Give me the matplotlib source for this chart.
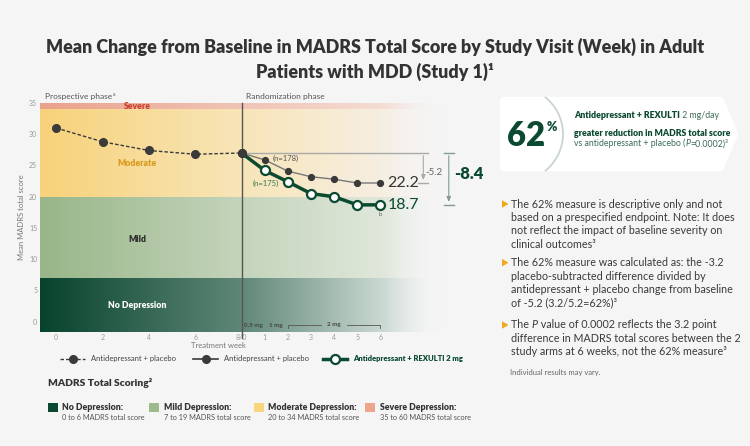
import matplotlib
matplotlib.use('Agg')
import matplotlib.pyplot as plt
import matplotlib.colors as mcolors
import numpy as np
from matplotlib.patches import Polygon, Rectangle, Arc
from matplotlib.lines import Line2D

plt.rcParams['font.family'] = ['Lato', 'DejaVu Sans']

# ---------------- data ----------------
pros_weeks = [0, 2, 4, 6, 8]
pros_scores = [31.0, 28.8, 27.4, 26.8, 27.0]
rand_weeks = [0, 1, 2, 3, 4, 5, 6]
placebo_scores = [27.0, 25.9, 24.1, 23.2, 22.8, 22.2, 22.2]
rexulti_scores = [27.0, 24.2, 22.4, 20.5, 20.0, 18.7, 18.7]
x_tick_labels = ['0', '2', '4', '6', '8/0', '1', '2', '3', '4', '5', '6']
y_ticks = [0, 5, 10, 15, 20, 25, 30, 35]
band_labels = ['No Depression', 'Mild', 'Moderate', 'Severe']
band_ranges = [(-1.6, 7), (7, 20), (20, 34), (34, 35)]
band_ranges_text = ['0 to 6 MADRS total score', '7 to 19 MADRS total score',
                    '20 to 34 MADRS total score', '35 to 60 MADRS total score']
placebo_n = '(n=178)'
rexulti_n = '(n=175)'
diff_placebo = '-5.2'
diff_rexulti = '-8.4'
RAND_OFFSET = 8

BG = '#f5f5f5'
GREEN = '#0b4a30'
DARK = '#3a3a3a'
GRAY = '#9a9a9a'

fig = plt.figure(figsize=(7.5, 4.46), dpi=100)
fig.patch.set_facecolor(BG)

# ---------------- main chart ----------------
ax = fig.add_axes([40 / 750, 1 - 331.7 / 446, 403 / 750, (331.7 - 103) / 446])
ax.set_facecolor('none')
for s in ax.spines.values():
    s.set_visible(False)

band_stops = [
    [(-0.7, '#07432c'), (8, '#5f8778'), (14, '#c9d7d1'), (16.7, BG)],
    [(-0.7, '#98b689'), (8, '#c4d4bb'), (14, '#dfe7da'), (16.7, BG)],
    [(-0.7, '#f7d27a'), (8, '#f8e5b8'), (14, '#f6eee2'), (16.7, BG)],
    [(-0.7, '#e9a28b'), (8, '#f1c3b5'), (14, '#f4dcd4'), (16.7, BG)],
]
xs = np.linspace(-0.7, 16.7, 800)
for (y0, y1), stops in zip(band_ranges, band_stops):
    sx = [s[0] for s in stops]
    cols = np.array([mcolors.to_rgb(s[1]) for s in stops])
    rgb = np.stack([np.interp(xs, sx, cols[:, i]) for i in range(3)], axis=-1)
    alpha = np.interp(xs, [-0.7, 14.2, 16.7], [1, 1, 0])
    img = np.concatenate([rgb, alpha[:, None]], axis=-1)[None, :, :]
    ax.imshow(img, extent=[-0.7, 16.7, y0, y1], aspect='auto', zorder=0,
              interpolation='bilinear')
ax.set_xlim(-0.7, 16.7)
ax.set_ylim(-1.6, 35)

# band labels
band_label_y = [2.6, 13.2, 25.3, 34.5]
band_label_col = ['white', '#2b2b2b', '#d99a1c', '#c8412b']
for lab, yy, c in zip(band_labels, band_label_y, band_label_col):
    ax.text(3.5, yy, lab, ha='center', va='center', fontsize=6.2, fontweight='heavy', color=c, zorder=2)

# vertical divider
ax.plot([RAND_OFFSET, RAND_OFFSET], [-2.6, 35], color='#555555', lw=1.0, zorder=3, clip_on=False)

# prospective (dashed)
ax.plot(pros_weeks, pros_scores, ls=(0, (2.5, 1.5)), color=DARK, lw=1.0, marker='o',
        markersize=5.5, markerfacecolor=DARK, markeredgecolor=DARK, zorder=5)

rx = [RAND_OFFSET + w for w in rand_weeks]
# baseline reference line
ax.plot([RAND_OFFSET, 16.05], [placebo_scores[0]] * 2, color='#a9a9a9', lw=1.0, zorder=3, clip_on=False)
# placebo
ax.plot(rx, placebo_scores, color='#777777', lw=1.0, marker='o', markersize=4.2,
        markerfacecolor=DARK, markeredgecolor=DARK, zorder=5, markevery=slice(1, None))
# rexulti
ax.plot(rx, rexulti_scores, color=GREEN, lw=2.5, marker='o', markersize=6.5,
        markerfacecolor='white', markeredgecolor=GREEN, markeredgewidth=1.6, zorder=6,
        markevery=slice(1, None))
# baseline point on top
ax.plot([pros_weeks[-1]], [pros_scores[-1]], 'o', markersize=5.5, color=DARK, zorder=7)

ax.text(rx[1] + 0.35, placebo_scores[1] + 0.2, placebo_n, fontsize=5.5, color='#555555', va='center', zorder=6)
ax.text(rx[0] + 0.5, rexulti_scores[2] - 0.2, rexulti_n, fontsize=5.5, color='#2f7a4f', va='center', zorder=6)
ax.text(rx[-1] + 0.3, placebo_scores[-1], f'{placebo_scores[-1]:.1f}', fontsize=11.5, color='#333333',
        va='center', ha='left', zorder=6)
ax.text(rx[-1] + 0.3, rexulti_scores[-1], f'{rexulti_scores[-1]:.1f}', fontsize=11.5, color=GREEN,
        va='center', ha='left', zorder=6)
ax.text(rx[-1], rexulti_scores[-1] - 1.5, 'b', fontsize=4, color='#555555', ha='center', va='center')

# -5.2 bracket
bx1 = 15.85
ax.annotate('', xy=(bx1, placebo_scores[-1]), xytext=(bx1, placebo_scores[0]),
            arrowprops=dict(arrowstyle='-|>,head_width=0.12,head_length=0.3', color='#a9a9a9', lw=0.8),
            annotation_clip=False)
ax.plot([bx1 - 0.22, bx1 + 0.22], [placebo_scores[-1]] * 2, color='#a9a9a9', lw=1.0, clip_on=False)
ax.text(bx1 + 0.1, 23.9, diff_placebo, fontsize=7, color='#666666', va='center', ha='left')
# -8.4 bracket
bx2 = 16.95
ax.annotate('', xy=(bx2, rexulti_scores[-1]), xytext=(bx2, placebo_scores[0]),
            arrowprops=dict(arrowstyle='-|>,head_width=0.12,head_length=0.3', color='#7f9c8e', lw=0.8),
            annotation_clip=False)
for yy in (placebo_scores[0], rexulti_scores[-1]):
    ax.plot([bx2 - 0.22, bx2 + 0.22], [yy, yy], color='#7f9c8e', lw=1.0, clip_on=False)
ax.text(bx2 + 0.25, 23.6, diff_rexulti, fontsize=12, fontweight='heavy', color=GREEN, va='center', ha='left')

# dose annotations
ax.text(8.12, -0.6, '0.5 mg', fontsize=4.5, fontweight='bold', color='#444444', va='center')
ax.text(9.2, -0.6, '1 mg', fontsize=4.5, fontweight='bold', color='#444444', va='center')
ax.plot([10, 10, 11.45], [-1.0, -0.5, -0.5], color='#555555', lw=0.6, clip_on=False)
ax.plot([12.55, 14, 14], [-0.5, -0.5, -1.0], color='#555555', lw=0.6, clip_on=False)
ax.text(12, -0.45, '2 mg', fontsize=4.5, fontweight='bold', color='#444444', va='center', ha='center')

# ticks
xt = pros_weeks[:-1] + [RAND_OFFSET] + [RAND_OFFSET + w for w in rand_weeks[1:]]
ax.set_xticks(xt)
ax.set_xticklabels(x_tick_labels)
ax.set_yticks(y_ticks)
ax.tick_params(axis='both', length=0, labelsize=5, labelcolor=GRAY, pad=2)
ax.set_ylabel('Mean MADRS total score', fontsize=5.5, color='#777777', labelpad=3)

# ---------------- overlay ----------------
ov = fig.add_axes([0, 0, 1, 1], zorder=10)
ov.set_xlim(0, 750)
ov.set_ylim(446, 0)
ov.axis('off')
ov.patch.set_alpha(0)

fig.canvas.draw()
R = fig.canvas.get_renderer()


def width_of(t):
    return t.get_window_extent(renderer=R).width


def fit(t, w):
    t.set_fontsize(t.get_fontsize() * w / width_of(t))
    return t


def rich(x, y, parts, size, va='center'):
    """parts: list of (text, weight, style, color)"""
    for txt, wt, st, col in parts:
        t = ov.text(x, y, txt, fontsize=size, fontweight=wt, fontstyle=st, color=col, va=va, ha='left')
        x = x + width_of(t)
    return x


# title
t1 = ov.text(375, 47, 'Mean Change from Baseline in MADRS Total Score by Study Visit (Week) in Adult',
             ha='center', va='center', fontsize=14, fontweight='heavy', color='#333333')
fit(t1, 656)
ov.text(375, 72, 'Patients with MDD (Study 1)¹', ha='center', va='center',
        fontsize=t1.get_fontsize(), fontweight='heavy', color='#333333')

# phase labels
pt = ov.text(45, 96, 'Prospective phase', fontsize=6, color='#555555', va='center')
ov.text(45 + width_of(pt) + 0.5, 94, 'a', fontsize=3.5, color='#555555', va='center')
ov.text(246, 96, 'Randomization phase', fontsize=6, color='#555555', va='center')
ov.text(218, 346, 'Treatment week', fontsize=5.5, color='#777777', va='center', ha='center')

# series legend
ly = 358.5
ov.add_line(Line2D([60, 85], [ly, ly], ls=(0, (2.5, 1.5)), color=DARK, lw=1.0))
ov.add_line(Line2D([72.5], [ly], marker='o', markersize=5.5, color=DARK))
lt = ov.text(91, ly, 'Antidepressant + placebo', fontsize=6.5, color='#444444', va='center')
fit(lt, 84)
ov.add_line(Line2D([193, 218], [ly, ly], color=DARK, lw=1.2))
ov.add_line(Line2D([205.5], [ly], marker='o', markersize=5.5, color=DARK))
ov.text(224, ly, 'Antidepressant + placebo', fontsize=lt.get_fontsize(), color='#444444', va='center')
ov.add_line(Line2D([323, 347], [ly, ly], color=GREEN, lw=2.5))
ov.add_line(Line2D([335], [ly], marker='o', markersize=6.5, markerfacecolor='white',
                   markeredgecolor=GREEN, markeredgewidth=1.6))
ov.text(353, ly, 'Antidepressant + REXULTI 2 mg', fontsize=lt.get_fontsize(), fontweight='heavy',
        color=GREEN, va='center')

# MADRS total scoring
ms = ov.text(48, 383, 'MADRS Total Scoring²', fontsize=9, fontweight='heavy', color='#333333', va='center')
fit(ms, 104)
sq_cols = ['#0b4a30', '#9dba8c', '#f7d67e', '#eda58b']
sq_x = [48, 149, 254, 365]
head = ['No Depression:', 'Mild Depression:', 'Moderate Depression:', 'Severe Depression:']
probe_h = ov.text(0, 0, head[2], fontsize=7.5, fontweight='heavy')
fit(probe_h, 88)
bsize = probe_h.get_fontsize()
probe_h.remove()
probe_s = ov.text(0, 0, band_ranges_text[2], fontsize=6)
fit(probe_s, 92)
ssize = probe_s.get_fontsize()
probe_s.remove()
for x0, c, h, sub in zip(sq_x, sq_cols, head, band_ranges_text):
    ov.add_patch(Rectangle((x0, 403), 9.5, 8.5, facecolor=c, edgecolor='none'))
    ov.text(x0 + 14.5, 407, h, fontsize=bsize, fontweight='heavy', color='#333333', va='center')
    ov.text(x0 + 14.5, 418, sub, fontsize=ssize, color='#555555', va='center')

# right callout box
box = Polygon([(504, 101), (720, 101), (734, 134), (720, 167), (504, 167)], closed=True,
              facecolor='white', edgecolor='white', lw=6, joinstyle='round')
ov.add_patch(box)
ov.add_patch(Arc((516, 134), 94, 94, theta1=-52, theta2=52, color='#c9d4cd', lw=1.3))
n62 = ov.text(507, 136, '62', fontsize=21, fontweight='heavy', color=GREEN, va='center', ha='left')
fit(n62, 38)
ov.text(547, 127, '%', fontsize=9, fontweight='heavy', color=GREEN, va='center', ha='left')
bs = 6.3
rich(574, 116, [('Antidepressant + REXULTI', 'heavy', 'normal', GREEN),
                (' 2 mg/day', 'normal', 'normal', '#3d6b55')], bs)
rich(574, 133, [('greater reduction in MADRS total score', 'heavy', 'normal', GREEN)], bs)
rich(574, 143.5, [('vs antidepressant + placebo (', 'normal', 'normal', '#3d6b55'),
                  ('P', 'normal', 'italic', '#3d6b55'),
                  ('=0.0002)³', 'normal', 'normal', '#3d6b55')], bs)

# bullets
TXT = '#3a3a3a'
probe = ov.text(511, 204, 'The 62% measure is descriptive only and not', fontsize=8, color=TXT, va='center')
fit(probe, 211)
fsz = probe.get_fontsize()
probe.remove()
lh = 13.4
bullets = [
    [[('The 62% measure is descriptive only and not', 'normal')],
     [('based on a prespecified endpoint. Note: It does', 'normal')],
     [('not reflect the impact of baseline severity on', 'normal')],
     [('clinical outcomes³', 'normal')]],
    [[('The 62% measure was calculated as: the -3.2', 'normal')],
     [('placebo-subtracted difference divided by', 'normal')],
     [('antidepressant + placebo change from baseline', 'normal')],
     [('of -5.2 (3.2/5.2=62%)³', 'normal')]],
    [[('The ', 'normal'), ('P', 'italic'), (' value of 0.0002 reflects the 3.2 point', 'normal')],
     [('difference in MADRS total scores between the 2', 'normal')],
     [('study arms at 6 weeks, not the 62% measure³', 'normal')]],
]
starts = [204, 262.7, 325]
for y0, lines in zip(starts, bullets):
    ov.add_patch(Polygon([(502, y0 - 3.8), (502, y0 + 3.8), (508.5, y0)], closed=True,
                         facecolor='#f2a81d', edgecolor='none'))
    for k, ln in enumerate(lines):
        rich(511, y0 + k * lh, [(s, 'normal', st, TXT) for s, st in ln], fsz)

ov.text(510, 373, 'Individual results may vary.', fontsize=5.5, color='#666666', va='center')

fig.savefig('out.png', dpi=100, facecolor=BG)
